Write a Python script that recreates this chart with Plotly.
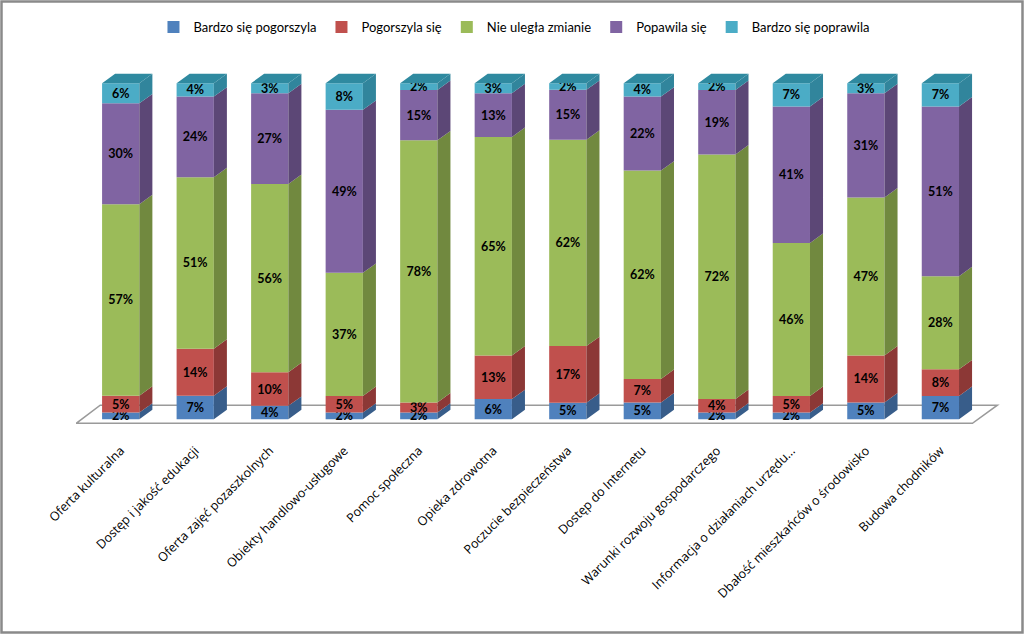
import numpy as np
import plotly.graph_objects as go

categories = [
    "Oferta kulturalna",
    "Dostęp i jakość edukacji",
    "Oferta zajęć pozaszkolnych",
    "Obiekty handlowo-usługowe",
    "Pomoc społeczna",
    "Opieka zdrowotna",
    "Poczucie bezpieczeństwa",
    "Dostęp do Internetu",
    "Warunki rozwoju gospodarczego",
    "Informacja o działaniach urzędu...",
    "Dbałość mieszkańców o środowisko",
    "Budowa chodników",
]

series_names = ["Bardzo się pogorszyla", "Pogorszyla się", "Nie uległa zmianie",
                "Popawila się", "Bardzo się poprawila"]

bardzo_pogorszyla = [2, 7, 4, 2, 2, 6, 5, 5, 2, 2, 5, 7]
pogorszyla = [5, 14, 10, 5, 3, 13, 17, 7, 4, 5, 14, 8]
bez_zmian = [57, 51, 56, 37, 78, 65, 62, 62, 72, 46, 47, 28]
poprawila = [30, 24, 27, 49, 15, 13, 15, 22, 19, 41, 31, 51]
bardzo_poprawila = [6, 4, 3, 8, 2, 3, 2, 4, 2, 7, 3, 7]

front_colors = ["#4F81BD", "#C0504D", "#9BBB59", "#8064A2", "#4BACC6"]
side_colors = ["#385D8A", "#8C3836", "#71893F", "#5C4776", "#31859C"]
top_color = "#2F8AA0"

series = [bardzo_pogorszyla, pogorszyla, bez_zmian, poprawila, bardzo_poprawila]
vals = np.array(series, dtype=float)
norm = vals / vals.sum(axis=0) * 100.0
cum = np.vstack([np.zeros(len(categories)), np.cumsum(norm, axis=0)])

x = np.arange(len(categories))
W = 0.5      # front face width
DX = 0.175   # depth in x units
DY = 2.8     # depth in y units

fig = go.Figure()

# side faces
for s in range(len(series)):
    xs, ys = [], []
    for i in range(len(categories)):
        xr = x[i] + W / 2
        y0, y1 = cum[s, i], cum[s + 1, i]
        xs += [xr, xr + DX, xr + DX, xr, xr, None]
        ys += [y0, y0 + DY, y1 + DY, y1, y0, None]
    fig.add_trace(go.Scatter(x=xs, y=ys, mode="lines", fill="toself",
                             fillcolor=side_colors[s], line=dict(width=0, color=side_colors[s]),
                             showlegend=False, hoverinfo="skip"))
# top faces
xs, ys = [], []
for i in range(len(categories)):
    xl, xr = x[i] - W / 2, x[i] + W / 2
    yt = cum[-1, i]
    xs += [xl, xl + DX, xr + DX, xr, xl, None]
    ys += [yt, yt + DY, yt + DY, yt, yt, None]
fig.add_trace(go.Scatter(x=xs, y=ys, mode="lines", fill="toself", fillcolor=top_color,
                         line=dict(width=0, color=top_color), showlegend=False, hoverinfo="skip"))

# front faces
for s in range(len(series)):
    fig.add_trace(go.Bar(
        x=x, y=norm[s], base=cum[s], width=W, name=series_names[s],
        marker=dict(color=front_colors[s], line=dict(width=0)),
        text=[f"{v}%" for v in series[s]], textposition="inside",
        insidetextanchor="middle", textangle=0,
        textfont=dict(family="Lato, Open Sans, sans-serif", size=12.5, color="black", weight="bold"),
        constraintext="none",
    ))

L, R, T, B = 76, 24, 63, 208
PW, PH = 1024 - L - R, 634 - T - B

# floor
fig.add_shape(type="path",
              path="M -0.597,-1.2 L 11.43,-1.2 L 11.765,4.2 L -0.275,4.2 Z",
              xref="x", yref="y", line=dict(color="#9A9A9A", width=1.5),
              fillcolor="rgba(255,255,255,0)", layer="below")
# outer border
fig.add_shape(type="rect", xref="paper", yref="paper",
              x0=(1.5 - L) / PW, x1=(1022.5 - L) / PW,
              y0=(634 - 632.5 - B) / PH, y1=(634 - 1.5 - B) / PH,
              line=dict(color="#8A8A8A", width=2.5))

fig.update_layout(
    width=1024, height=634,
    margin=dict(l=L, r=R, t=T, b=B),
    barmode="overlay",
    plot_bgcolor="white", paper_bgcolor="white",
    uniformtext=dict(minsize=12, mode="show"),
    showlegend=True,
    legend=dict(orientation="h", x=0.474, xanchor="center", y=(634 - 27 - B) / PH,
                yanchor="middle", font=dict(family="Lato, Open Sans, sans-serif", size=13, color="black"),
                itemwidth=30, traceorder="normal"),
    xaxis=dict(range=[-0.6, 11.8], tickmode="array", tickvals=list(x), ticktext=categories,
               tickangle=-45, showgrid=False, zeroline=False, showline=False, ticks="",
               ticklabelstandoff=14, ticklabelshift=0,
               tickfont=dict(family="Open Sans, sans-serif", size=12.5, color="black")),
    yaxis=dict(range=[-2, 106], visible=False, showgrid=False, zeroline=False),
    font=dict(family="Lato, Open Sans, sans-serif"),
)

fig.write_html("out.html", config={"displayModeBar": False},
               post_script="document.body.style.margin='0';document.body.style.overflow='hidden';")
